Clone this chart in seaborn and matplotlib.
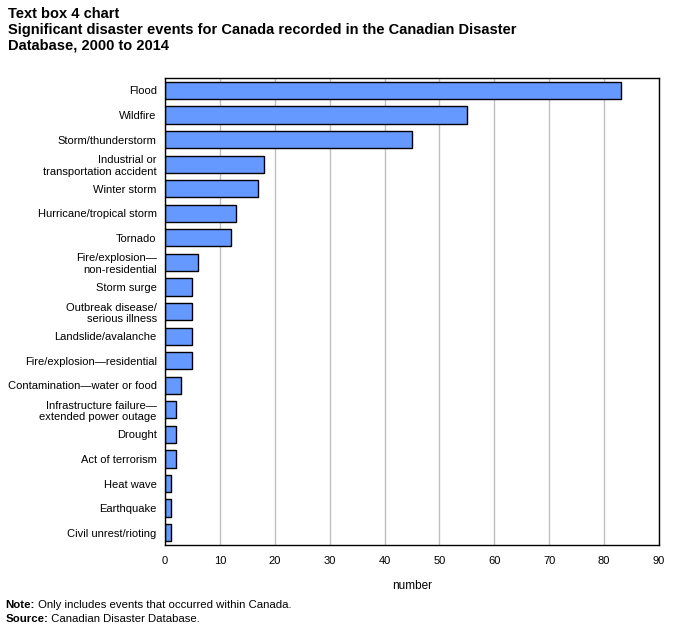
import matplotlib
matplotlib.use("Agg")
import matplotlib.pyplot as plt
import seaborn as sns
import pandas as pd
from matplotlib.transforms import offset_copy

categories = [
    "Flood", "Wildfire", "Storm/thunderstorm",
    "Industrial or\ntransportation accident", "Winter storm",
    "Hurricane/tropical storm", "Tornado", "Fire/explosion\u2014\nnon-residential",
    "Storm surge", "Outbreak disease/\nserious illness", "Landslide/avalanche",
    "Fire/explosion\u2014residential", "Contamination\u2014water or food",
    "Infrastructure failure\u2014\nextended power outage", "Drought",
    "Act of terrorism", "Heat wave", "Earthquake", "Civil unrest/rioting",
]
counts = [83, 55, 45, 18, 17, 13, 12, 6, 5, 5, 5, 5, 3, 2, 2, 2, 1, 1, 1]

df = pd.DataFrame({"category": categories, "number": counts})

sns.set_style("white")
plt.rcParams["font.family"] = ["Liberation Sans", "DejaVu Sans"]
plt.rcParams["text.color"] = "black"
plt.rcParams["axes.labelcolor"] = "black"

fig = plt.figure(figsize=(6.78, 6.30), dpi=100)
ax = fig.add_axes([0.2434, 0.135, 0.7286, 0.741])

sns.barplot(data=df, x="number", y="category", color="#6699ff",
            edgecolor="black", linewidth=1, width=0.7, saturation=1, ax=ax)

ax.set_xlim(0, 90)
ax.set_xticks(range(0, 91, 10))
ax.xaxis.grid(True, color="#c0c0c0", linewidth=1)
ax.set_axisbelow(True)
for s in ax.spines.values():
    s.set_color("black")
    s.set_linewidth(1)
ax.tick_params(axis="both", labelsize=8, length=0, colors="black")
ax.tick_params(axis="x", pad=8)
ax.tick_params(axis="y", pad=6)
ax.set_ylabel("")
ax.set_xlabel("number", fontsize=8.5, labelpad=10)

fig.text(0.012, 0.989, "Text box 4 chart\nSignificant disaster events for Canada recorded in the Canadian Disaster\nDatabase, 2000 to 2014",
         fontsize=10.5, fontweight="bold", va="top", linespacing=1.16)

# note and source: bold lead-in followed by regular text
fig.canvas.draw()
renderer = fig.canvas.get_renderer()
for y, head, rest in [(0.035, "Note:", " Only includes events that occurred within Canada."),
                      (0.013, "Source:", " Canadian Disaster Database.")]:
    t = fig.text(0.008, y, head, fontsize=8.2, fontweight="bold")
    w = t.get_window_extent(renderer).width
    fig.text(0.008, y, rest, fontsize=8.2,
             transform=offset_copy(fig.transFigure, fig=fig, x=w, y=0, units="dots"))

fig.savefig("out.png", dpi=100)
